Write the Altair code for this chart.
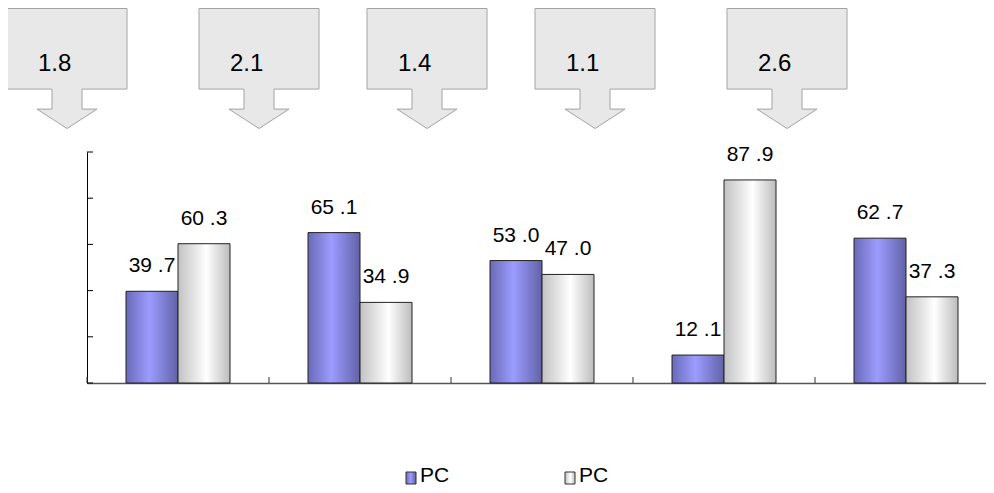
import altair as alt
import pandas as pd

# ---- data ----
groups = ["1", "2", "3", "4", "5"]
series_ids = ["s1", "s2"]
series_names = ["PC", "PC"]
pc_a = [39.7, 65.1, 53.0, 12.1, 62.7]
pc_b = [60.3, 34.9, 47.0, 87.9, 37.3]
callout_values = [1.8, 2.1, 1.4, 1.1, 2.6]
y_ticks = [0, 20, 40, 60, 80, 100]

# ---- layout (pixels, relative to plot area) ----
callout_x = [-20, 172, 340, 508, 700]
callout_y = -83.5
legend_x = [319, 478]

FONT = "Liberation Sans"

blue_grad = {
    "gradient": "linear", "x1": 0, "x2": 1, "y1": 0, "y2": 0,
    "stops": [
        {"offset": 0, "color": "#6a6ab8"},
        {"offset": 0.45, "color": "#9c9cff"},
        {"offset": 1, "color": "#6262a8"},
    ],
}
white_grad = {
    "gradient": "linear", "x1": 0, "x2": 1, "y1": 0, "y2": 0,
    "stops": [
        {"offset": 0, "color": "#c2c2c2"},
        {"offset": 0.55, "color": "#ffffff"},
        {"offset": 1, "color": "#bcbcbc"},
    ],
}

bars = pd.DataFrame({
    "group": groups * 2,
    "series": [series_ids[0]] * len(groups) + [series_ids[1]] * len(groups),
    "value": pc_a + pc_b,
})

x_enc = alt.X(
    "group:N",
    scale=alt.Scale(domain=groups, range=[0, 910], paddingInner=0, paddingOuter=0),
    axis=alt.Axis(labels=False, ticks=False, title=None, grid=False,
                  domainColor="#555555", domainWidth=1.5),
)
xoff_enc = alt.XOffset(
    "series:N",
    scale=alt.Scale(domain=series_ids, paddingInner=0, paddingOuter=0.75),
)
y_enc = alt.Y(
    "value:Q",
    scale=alt.Scale(domain=[0, 100], nice=False),
    axis=alt.Axis(labels=False, ticks=False, title=None, grid=False,
                  domainColor="black", domainWidth=1),
)

base = alt.Chart(bars).encode(x=x_enc, xOffset=xoff_enc, y=y_enc)

bar_a = base.transform_filter(alt.datum.series == series_ids[0]).mark_bar(
    fill=blue_grad, stroke="#222222", strokeWidth=1
)
bar_b = base.transform_filter(alt.datum.series == series_ids[1]).mark_bar(
    fill=white_grad, stroke="#222222", strokeWidth=1
)

labels = base.transform_calculate(
    label="replace(format(datum.value, '.1f'), '.', ' .')"
).mark_text(
    dy=-15, baseline="bottom", fontSize=21, font=FONT, color="black"
).encode(text="label:N")

# inward ticks on x axis (at group boundaries)
xticks = alt.Chart(pd.DataFrame({"group": groups})).mark_rule(
    color="#333333", strokeWidth=1
).encode(
    x=alt.X("group:N", bandPosition=0),
    y=alt.datum(0),
    y2=alt.value(225),
)

# inward ticks on y axis
yticks = alt.Chart(pd.DataFrame({"t": y_ticks})).mark_rule(
    color="black", strokeWidth=1
).encode(
    y=alt.Y("t:Q"),
    x=alt.value(0),
    x2=alt.value(6),
)

# callouts (box + down arrow)
callout_path = ("M-1,-1 L1,-1 L1,0.343 L0.25,0.343 L0.25,0.677 L0.5,0.677 "
                "L0,1 L-0.5,0.677 L-0.25,0.677 L-0.25,0.343 L-1,0.343 Z")
co = pd.DataFrame({
    "v": callout_values,
    "cx": callout_x,
    "cy": [callout_y] * len(callout_values),
})
co_base = alt.Chart(co).encode(
    x=alt.X("cx:Q", scale=None, axis=None),
    y=alt.Y("cy:Q", scale=None, axis=None),
)
co_shape = co_base.mark_point(
    shape=callout_path, size=14400, filled=True, fill="#e8e8e8",
    stroke="#a3a3a3", strokeWidth=1, opacity=1,
)
co_text = co_base.mark_text(
    align="left", baseline="alphabetic", dx=-29, dy=2, fontSize=24,
    font=FONT, color="black",
).encode(text=alt.Text("v:Q", format=".1f"))

# legend
lg = pd.DataFrame({
    "sid": series_ids,
    "name": series_names,
    "lx": legend_x,
}).assign(lx2=lambda d: d.lx + 10)
lg_base = alt.Chart(lg).encode(x=alt.X("lx:Q", scale=None, axis=None))
lg_a = lg_base.transform_filter(alt.datum.sid == series_ids[0]).mark_rect(
    fill=blue_grad, stroke="#333333", strokeWidth=1
).encode(x2="lx2:Q", y=alt.value(320), y2=alt.value(332))
lg_b = lg_base.transform_filter(alt.datum.sid == series_ids[1]).mark_rect(
    fill=white_grad, stroke="#333333", strokeWidth=1
).encode(x2="lx2:Q", y=alt.value(320), y2=alt.value(332))
lg_text = lg_base.mark_text(
    align="left", baseline="bottom", dx=14, fontSize=21, font=FONT, color="black"
).encode(y=alt.value(334), text="name:N")

chart = alt.layer(
    bar_a, bar_b, labels, xticks, yticks, co_shape, co_text, lg_a, lg_b, lg_text
).properties(
    width=899,
    height=231,
    autosize=alt.AutoSizeParams(type="none"),
    padding={"left": 79, "top": 144, "right": 0, "bottom": 102},
).configure_view(stroke=None)

chart.save("out.html", embed_options={"renderer": "svg", "actions": False})
